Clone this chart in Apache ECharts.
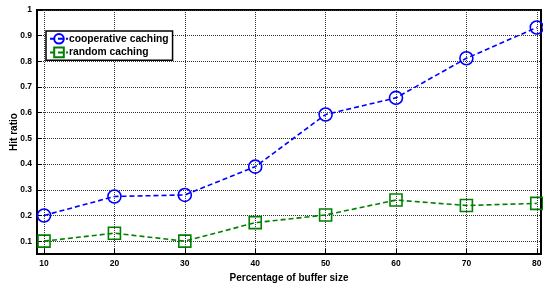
<!DOCTYPE html>
<html><head><meta charset="utf-8">
<script src="https://cdn.jsdelivr.net/npm/echarts@6/dist/echarts.min.js"></script>
<style>html,body{margin:0;padding:0;background:#fff}#c{width:543px;height:291px}</style>
</head><body><div id="c"></div>
<script>
const xValues = [10, 20, 30, 40, 50, 60, 70, 80];
const cooperative = [0.20, 0.274, 0.28, 0.39, 0.593, 0.658, 0.812, 0.932];
const random = [0.10, 0.131, 0.10, 0.172, 0.202, 0.26, 0.239, 0.247];
const yTicks = [0.1, 0.2, 0.3, 0.4, 0.5, 0.6, 0.7, 0.8, 0.9, 1];
const seriesNames = ['cooperative caching', 'random caching'];
const xTitle = 'Percentage of buffer size';
const yTitle = 'Hit ratio';

const font = '"Liberation Sans", Arial, sans-serif';
const chart = echarts.init(document.getElementById('c'));
const gridLine = {show: true, lineStyle: {color: '#333', type: [1, 1], width: 1}};
chart.setOption({
  animation: false,
  grid: {left: 37, right: 2, top: 10, bottom: 37, show: true, borderColor: '#000', borderWidth: 2, backgroundColor: 'transparent', outerBoundsMode: 'none', containLabel: false},
  legend: {
    left: 46, top: 31, orient: 'vertical', itemGap: 2, itemWidth: 18, itemHeight: 12,
    padding: [2, 4, 2, 3], borderColor: '#000', borderWidth: 1.5, backgroundColor: '#fff',
    textStyle: {fontFamily: font, fontWeight: 'bold', fontSize: 10.3, color: '#000', padding: [0, 0, 0, -4]},
    data: seriesNames
  },
  xAxis: {
    type: 'value', min: 9, max: 80.6,
    name: xTitle, nameLocation: 'middle', nameGap: 19, nameMoveOverlap: false,
    nameTextStyle: {fontFamily: font, fontWeight: 'bold', fontSize: 10, color: '#000'},
    axisLine: {show: true, onZero: false, lineStyle: {color: '#000', width: 2}},
    axisTick: {show: true, inside: true, length: 5, customValues: xValues, lineStyle: {color: '#000'}},
    axisLabel: {customValues: xValues, fontFamily: font, fontWeight: 'bold', fontSize: 8.5, color: '#000', margin: 5},
    splitLine: gridLine
  },
  yAxis: {
    type: 'value', min: 0.05, max: 1,
    name: yTitle, nameLocation: 'middle', nameGap: 18, nameRotate: 90, nameMoveOverlap: false,
    nameTextStyle: {fontFamily: font, fontWeight: 'bold', fontSize: 10, color: '#000'},
    axisLine: {show: true, onZero: false, lineStyle: {color: '#000', width: 2}},
    axisTick: {show: true, inside: true, length: 5, customValues: yTicks, lineStyle: {color: '#000'}},
    axisLabel: {customValues: yTicks, fontFamily: font, fontWeight: 'bold', fontSize: 8.5, color: '#000', margin: 5},
    splitLine: gridLine
  },
  series: [
    {
      name: seriesNames[0], type: 'line', data: xValues.map((x, i) => [x, cooperative[i]]),
      symbol: 'circle', symbolSize: 13,
      lineStyle: {color: '#0000ff', width: 1.6, type: [5, 3]},
      itemStyle: {color: 'rgba(0,0,0,0)', borderColor: '#0000ff', borderWidth: 1.6}
    },
    {
      name: seriesNames[1], type: 'line', data: xValues.map((x, i) => [x, random[i]]),
      symbol: 'rect', symbolSize: 12,
      lineStyle: {color: '#008000', width: 1.6, type: [5, 3]},
      itemStyle: {color: 'rgba(0,0,0,0)', borderColor: '#008000', borderWidth: 1.6}
    }
  ]
});
</script></body></html>
